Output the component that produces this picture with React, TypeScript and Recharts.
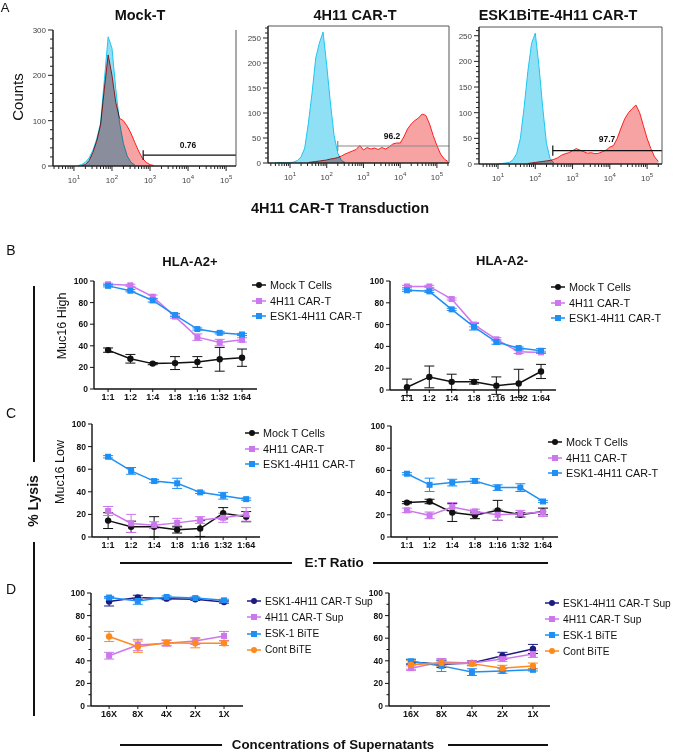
import React from 'react';
import { AreaChart, Area, LineChart, Line, XAxis, YAxis, ErrorBar, ReferenceLine } from 'recharts';

const FONT = '"Liberation Sans", Arial, sans-serif';

// ---------- A: flow histograms (x in log10 units) ----------
const logBins = [0.5, 0.6, 0.7, 0.8, 0.9, 1.0, 1.1, 1.2, 1.3, 1.4, 1.5, 1.6, 1.7, 1.8, 1.9, 2.0, 2.1, 2.2, 2.3, 2.4,
  2.5, 2.6, 2.7, 2.8, 2.9, 3.0, 3.1, 3.2, 3.3, 3.4, 3.5, 3.6, 3.7, 3.8, 3.9, 4.0, 4.1, 4.2, 4.3, 4.4,
  4.5, 4.6, 4.7, 4.8, 4.9, 5.0, 5.1, 5.2, 5.3];
const N = null;
const mockBlue = [N, N, N, N, N, N, 1, 3, 8, 18, 35, 60, 95, 190, 285, 260, 170, 95, 50, 22,
  8, 2, N, N, N, N, N, N, N, N, N, N, N, N, N, N, N, N, N, N, N, N, N, N, N, N, N, N, N];
const mockRed = [N, N, N, N, N, N, N, 1, 3, 12, 30, 55, 90, 170, 245, 200, 140, 105, 100, 88,
  72, 52, 33, 17, 8, 3, 1, N, N, N, N, N, N, N, N, N, N, N, N, N, N, N, N, N, N, N, N, N, N];
const carBlue = [N, 1, 1, 1, 1, 1, 2, 5, 12, 30, 80, 140, 210, 240, 262, 195, 120, 55, 20, 5,
  1, N, N, N, N, N, N, N, N, N, N, N, N, N, N, N, N, N, N, N, N, N, N, N, N, N, N, N, N];
const carRed = [N, N, N, N, N, N, N, N, N, N, 1, 2, 3, 4, 5, 6, 8, 9, 11, 14,
  18, 21, 24, 27, 35, 26, 31, 28, 30, 27, 31, 28, 32, 38, 40, 40, 52, 68, 78, 85,
  90, 98, 95, 78, 55, 35, 18, 8, 3];
const biteBlue = [N, N, N, N, N, 1, 1, 2, 3, 8, 20, 50, 110, 180, 235, 255, 190, 110, 40, 10,
  2, N, N, N, N, N, N, N, N, N, N, N, N, N, N, N, N, N, N, N, N, N, N, N, N, N, N, N, N];
const biteRed = [N, N, N, N, N, N, N, N, N, N, N, N, N, 1, 2, 3, 4, 5, 6, 7,
  9, 12, 17, 20, 22, 26, 30, 27, 24, 21, 22, 20, 21, 24, 27, 33, 36, 50, 70, 88,
  100, 108, 115, 100, 75, 50, 30, 14, 5];

const histTitles = ['Mock-T', '4H11 CAR-T', 'ESK1BiTE-4H11 CAR-T'];
const gatePct = ['0.76', '96.2', '97.7'];

// ---------- B/C/D: % lysis ----------
const ratios = ['1:1', '1:2', '1:4', '1:8', '1:16', '1:32', '1:64'];
const concs = ['16X', '8X', '4X', '2X', '1X'];
const etNames = ['Mock T Cells', '4H11 CAR-T', 'ESK1-4H11 CAR-T'];
const supNames = ['ESK1-4H11 CAR-T Sup', '4H11 CAR-T Sup', 'ESK-1 BiTE', 'Cont BiTE'];

const bPosMock = [36, 28, 23.5, 24, 25, 27.5, 29];
const bPosMockErr = [2, 4, 1, 6, 5, 11, 8];
const bPos4H11 = [97, 96, 85.5, 67, 48, 43, 45.5];
const bPos4H11Err = [1, 1, 1.5, 1.5, 3, 3, 2];
const bPosEsk = [95.5, 91, 82, 68.5, 55.5, 52, 50.5];
const bPosEskErr = [1, 1, 1.5, 1.5, 1, 1, 1];

const bNegMock = [2.5, 12, 7.5, 7.5, 4, 6, 17];
const bNegMockErr = [7.5, 10, 7, 2, 8, 13, 6.5];
const bNeg4H11 = [95, 95, 83.5, 60, 46.5, 35, 34.5];
const bNeg4H11Err = [1, 1, 1, 2, 1.5, 1.5, 1];
const bNegEsk = [91.5, 90.5, 74, 58, 44, 38.5, 36];
const bNegEskErr = [1, 1, 1, 3, 2, 1, 2];

const cPosMock = [14.5, 9, 9, 6.5, 7.5, 21, 18];
const cPosMockErr = [7, 5, 9, 3, 7, 5, 4.5];
const cPos4H11 = [23, 12, 10.5, 12.5, 15, 17, 20];
const cPos4H11Err = [4, 8, 3, 4, 3, 4, 6];
const cPosEsk = [71, 58.5, 49.5, 47.5, 39.5, 36.5, 33.5];
const cPosEskErr = [1, 3, 1.5, 4.5, 1, 3, 1];

const cNegMock = [31, 32, 22, 19.5, 24, 20, 23];
const cNegMockErr = [1, 2, 8, 3, 9, 2, 3];
const cNeg4H11 = [24, 19.5, 27, 23, 20, 21, 22.5];
const cNeg4H11Err = [2, 3, 4, 2, 5, 3, 4];
const cNegEsk = [57, 47, 49, 50.5, 44.5, 44.5, 32];
const cNegEskErr = [1, 6, 3, 2, 2.5, 3.5, 1];

const dPosEsk4H11 = [92.5, 96, 95, 94.5, 92];
const dPosEsk4H11Err = [4, 2, 1, 1, 1];
const dPos4H11 = [44.5, 54, 55.5, 57.5, 62];
const dPos4H11Err = [3, 5, 2.5, 3, 4];
const dPosEskBite = [96, 93, 96.5, 95.5, 93.5];
const dPosEskBiteErr = [1, 3, 1, 1, 1];
const dPosCont = [61.5, 52.5, 56, 55.5, 55.5];
const dPosContErr = [4.5, 5, 2.5, 4, 2];

const dNegEsk4H11 = [39, 37, 38, 44.5, 50.5];
const dNegEsk4H11Err = [2, 3, 2, 3, 4];
const dNeg4H11 = [33.5, 39, 38, 41.5, 46];
const dNeg4H11Err = [2, 3, 2, 2, 3];
const dNegEskBite = [39.5, 35.5, 30, 31, 32];
const dNegEskBiteErr = [2, 5, 3, 2, 1];
const dNegCont = [36.5, 38, 37.5, 33.5, 35.5];
const dNegContErr = [4, 3, 2, 2.5, 2.5];

const C_MOCK = '#111111';
const C_4H11 = '#cc77ee';
const C_ESK = '#1e8ff5';
const C_NAVY = '#1b1b80';
const C_ORANGE = '#ff8a1c';

const Txt = ({ x, y, size = 12, bold = false, rotate = 0, children }: any) => (
  <div style={{
    position: 'absolute', left: x, top: y, transform: `translate(-50%, -50%) rotate(${rotate}deg)`,
    fontFamily: FONT, fontSize: size, fontWeight: bold ? 700 : 400, whiteSpace: 'nowrap', color: '#111', lineHeight: 1,
  }}>{children}</div>
);

const Rule = ({ x1, x2, y1, y2, w = 2 }: any) => (
  <div style={{
    position: 'absolute', left: Math.min(x1, x2), top: Math.min(y1, y2),
    width: Math.max(Math.abs(x2 - x1), w), height: Math.max(Math.abs(y2 - y1), w), background: '#111',
  }} />
);

const logTicks: number[] = [];
for (let d = 0; d <= 5; d++) for (let m = 1; m <= 9; m++) logTicks.push(d + Math.log10(m));

function Histo({ left, top, right, bottom, yMax, yStep, yMinor, xMin, xMax, blue, red, gateX, gateY, gateCap, gateColor, boxTop }: any) {
  const rows = logBins.map((x, i) => ({ x, blue: blue[i], red: red[i] }));
  const padL = 32, padT = 4, padR = 4, padB = 26;
  const yTicks: number[] = [];
  for (let v = 0; v <= yMax; v += yMinor) yTicks.push(v);
  return (
    <div style={{ position: 'absolute', left: left - padL, top: top - padT }}>
      <AreaChart width={right - left + padL + padR} height={bottom - top + padT + padB} data={rows}
        margin={{ top: padT, right: padR, left: 0, bottom: 0 }}>
        <XAxis dataKey="x" type="number" domain={[xMin, xMax]} allowDataOverflow interval={0}
          ticks={logTicks.filter(t => t >= xMin && t <= xMax)} height={padB} tickSize={0} tickMargin={0}
          axisLine={{ stroke: '#222', strokeWidth: 1.5 }}
          tick={(p: any) => {
            const v = p.payload.value;
            const major = Math.abs(v - Math.round(v)) < 1e-6;
            return (
              <g>
                <line x1={p.x} x2={p.x} y1={p.y} y2={p.y + (major ? 5 : 3)} stroke="#222" strokeWidth={1} />
                {major && (
                  <text x={p.x} y={p.y + 17} textAnchor="middle" fontSize={8} fill="#444" fontFamily={FONT}>
                    <tspan>10</tspan><tspan dy={-4} fontSize={6}>{Math.round(v)}</tspan>
                  </text>
                )}
              </g>
            );
          }} />
        <YAxis type="number" domain={[0, yMax]} allowDataOverflow interval={0} ticks={yTicks} width={padL}
          tickSize={0} tickMargin={0} axisLine={{ stroke: '#222', strokeWidth: 1.5 }}
          tick={(p: any) => {
            const v = p.payload.value;
            const major = v % yStep === 0;
            return (
              <g>
                <line x1={p.x} x2={p.x - (major ? 5 : 3)} y1={p.y} y2={p.y} stroke="#222" strokeWidth={1} />
                {major && (
                  <text x={p.x - 7} y={p.y} dy={3} textAnchor="end" fontSize={8} fill="#444" fontFamily={FONT}>{v}</text>
                )}
              </g>
            );
          }} />
        <Area dataKey="red" type="linear" stroke="#ff1e1e" strokeWidth={1} fill="#f7a3a3" fillOpacity={1} isAnimationActive={false} />
        <Area dataKey="blue" type="linear" className="mult" stroke="#1ec6f2" strokeWidth={1} fill="#8fdff5" fillOpacity={1} isAnimationActive={false} />
        <ReferenceLine segment={[{ x: gateX, y: gateY }, { x: xMax, y: gateY }]} stroke={gateColor} strokeWidth={1.2} ifOverflow="visible" />
        <ReferenceLine segment={[{ x: gateX, y: gateY - gateCap }, { x: gateX, y: gateY + gateCap }]} stroke={gateColor} strokeWidth={1.2} ifOverflow="visible" />
        <ReferenceLine x={xMax} stroke="#555" strokeWidth={1} ifOverflow="visible" />
        {boxTop && <ReferenceLine y={yMax} stroke="#555" strokeWidth={1} ifOverflow="visible" />}
      </AreaChart>
    </div>
  );
}

const squareDot = (color: string) => (p: any) =>
  <rect key={`s${p.index}`} x={p.cx - 3} y={p.cy - 3} width={6} height={6} fill={color} />;
const roundDot = (color: string) => (p: any) =>
  <circle key={`c${p.index}`} cx={p.cx} cy={p.cy} r={3.2} fill={color} />;

function LysisPanel({ left, top, right, bottom, dom, cats, series, minorY }: any) {
  const rows = cats.map((c: string, i: number) => {
    const r: any = { i };
    series.forEach((s: any, k: number) => { r['v' + k] = s.values[i]; r['e' + k] = s.errs[i]; });
    return r;
  });
  const padL = 36, padT = 6, padR = 4, padB = 22;
  const yTicks = minorY ? [0, 10, 20, 30, 40, 50, 60, 70, 80, 90, 100] : [0, 20, 40, 60, 80, 100];
  return (
    <div style={{ position: 'absolute', left: left - padL, top: top - padT }}>
      <LineChart width={right - left + padL + padR} height={bottom - top + padT + padB} data={rows}
        margin={{ top: padT, right: padR, left: 0, bottom: 0 }}>
        <XAxis dataKey="i" type="number" domain={dom} allowDataOverflow interval={0}
          ticks={cats.map((_: any, i: number) => i)} tickFormatter={(i: number) => cats[i]} height={padB}
          tickSize={3} tickMargin={2} axisLine={{ stroke: '#111', strokeWidth: 1.4 }} tickLine={{ stroke: '#111' }}
          tick={{ fontSize: 9, fontWeight: 700, fill: '#111', fontFamily: FONT }} />
        <YAxis type="number" domain={[0, 100]} allowDataOverflow interval={0} ticks={yTicks} width={padL}
          tickSize={0} tickMargin={0} axisLine={{ stroke: '#111', strokeWidth: 1.4 }}
          tick={(p: any) => {
            const v = p.payload.value;
            const major = v % 20 === 0;
            return (
              <g>
                <line x1={p.x} x2={p.x - (major ? 4 : 2.5)} y1={p.y} y2={p.y} stroke="#111" strokeWidth={1} />
                {major && (
                  <text x={p.x - 6} y={p.y} dy={3} textAnchor="end" fontSize={8.5} fontWeight={700} fill="#111" fontFamily={FONT}>{v}</text>
                )}
              </g>
            );
          }} />
        {series.map((s: any, k: number) => (
          <Line key={k} dataKey={'v' + k} type="linear" stroke={s.color} strokeWidth={1.5} isAnimationActive={false}
            dot={s.shape === 'circle' ? roundDot(s.color) : squareDot(s.color)} activeDot={false}>
            <ErrorBar dataKey={'e' + k} width={5} stroke={s.color} strokeWidth={1} direction="y" />
          </Line>
        ))}
      </LineChart>
    </div>
  );
}

function LegendBox({ x, y, gap, items, size = 10.8 }: any) {
  return (
    <>
      {items.map((it: any, k: number) => (
        <div key={k} style={{ position: 'absolute', left: x, top: y + k * gap - 8, height: 16, display: 'flex', alignItems: 'center' }}>
          <svg width={18} height={16}>
            <line x1={0} x2={14} y1={8} y2={8} stroke={it.color} strokeWidth={1.5} />
            {it.shape === 'circle'
              ? <circle cx={7} cy={8} r={3} fill={it.color} />
              : <rect x={4} y={5} width={6} height={6} fill={it.color} />}
          </svg>
          <span style={{ fontFamily: FONT, fontSize: size, color: '#111', whiteSpace: 'nowrap' }}>{it.name}</span>
        </div>
      ))}
    </>
  );
}

const etSeries = (m: number[], me: number[], a: number[], ae: number[], e: number[], ee: number[]) => [
  { name: etNames[0], color: C_MOCK, shape: 'circle', values: m, errs: me },
  { name: etNames[1], color: C_4H11, shape: 'square', values: a, errs: ae },
  { name: etNames[2], color: C_ESK, shape: 'square', values: e, errs: ee },
];
const supSeries = (a: number[], ae: number[], b: number[], be: number[], c: number[], ce: number[], d: number[], de: number[]) => [
  { name: supNames[0], color: C_NAVY, shape: 'circle', values: a, errs: ae },
  { name: supNames[1], color: C_4H11, shape: 'square', values: b, errs: be },
  { name: supNames[2], color: C_ESK, shape: 'square', values: c, errs: ce },
  { name: supNames[3], color: C_ORANGE, shape: 'circle', values: d, errs: de },
];

export default function App() {
  const bPos = etSeries(bPosMock, bPosMockErr, bPos4H11, bPos4H11Err, bPosEsk, bPosEskErr);
  const bNeg = etSeries(bNegMock, bNegMockErr, bNeg4H11, bNeg4H11Err, bNegEsk, bNegEskErr);
  const cPos = etSeries(cPosMock, cPosMockErr, cPos4H11, cPos4H11Err, cPosEsk, cPosEskErr);
  const cNeg = etSeries(cNegMock, cNegMockErr, cNeg4H11, cNeg4H11Err, cNegEsk, cNegEskErr);
  const dPos = supSeries(dPosEsk4H11, dPosEsk4H11Err, dPos4H11, dPos4H11Err, dPosEskBite, dPosEskBiteErr, dPosCont, dPosContErr);
  const dNeg = supSeries(dNegEsk4H11, dNegEsk4H11Err, dNeg4H11, dNeg4H11Err, dNegEskBite, dNegEskBiteErr, dNegCont, dNegContErr);

  return (
    <div style={{ position: 'absolute', left: 0, top: 0, width: 674, height: 753, background: '#fff', overflow: 'hidden' }}>
      <style>{'.mult { mix-blend-mode: multiply; }'}</style>

      {/* A */}
      <Txt x={5} y={7} size={13}>A</Txt>
      <Txt x={140} y={15} size={14.5} bold>{histTitles[0]}</Txt>
      <Txt x={355} y={15} size={14.5} bold>{histTitles[1]}</Txt>
      <Txt x={558} y={15} size={14.5} bold>{histTitles[2]}</Txt>
      <Txt x={17} y={97} size={15} rotate={-90}>Counts</Txt>

      <Histo left={53} top={30} right={236} bottom={166} yMax={300} yStep={100} yMinor={20} xMin={0.45} xMax={5.26}
        blue={mockBlue} red={mockRed} gateX={2.82} gateY={24} gateCap={11} gateColor="#111" boxTop={false} />
      <Histo left={268} top={26} right={449} bottom={163} yMax={274} yStep={50} yMinor={10} xMin={0.4} xMax={5.33}
        blue={carBlue} red={carRed} gateX={2.3} gateY={34} gateCap={10} gateColor="#888" boxTop />
      <Histo left={479} top={27} right={662} bottom={164} yMax={267} yStep={50} yMinor={10} xMin={0.49} xMax={5.4}
        blue={biteBlue} red={biteRed} gateX={2.47} gateY={26} gateCap={10} gateColor="#111" boxTop />

      <Txt x={188} y={145} size={8.5} bold>{gatePct[0]}</Txt>
      <Txt x={392} y={136} size={8.5} bold>{gatePct[1]}</Txt>
      <Txt x={607} y={139} size={8.5} bold>{gatePct[2]}</Txt>
      <Txt x={340} y={208} size={14.5} bold>4H11 CAR-T Transduction</Txt>

      {/* B / C / D */}
      <Txt x={11} y={250} size={14}>B</Txt>
      <Txt x={11} y={413} size={14}>C</Txt>
      <Txt x={11} y={589} size={14}>D</Txt>
      <Txt x={190} y={261} size={13} bold>HLA-A2+</Txt>
      <Txt x={502} y={260} size={13} bold>HLA-A2-</Txt>
      <Txt x={62} y={326} size={12.5} rotate={-90}>Muc16 High</Txt>
      <Txt x={60} y={472} size={12.5} rotate={-90}>Muc16 Low</Txt>
      <Txt x={33} y={501} size={14} bold rotate={-90}>% Lysis</Txt>
      <Rule x1={33} x2={35} y1={286} y2={462} />
      <Rule x1={33} x2={35} y1={542} y2={716} />

      <LysisPanel left={94} top={281} right={257} bottom={389} dom={[-0.63, 6.67]} cats={ratios} series={bPos} />
      <LysisPanel left={390} top={281} right={556} bottom={390} dom={[-0.76, 6.67]} cats={ratios} series={bNeg} />
      <LysisPanel left={92} top={424} right={260} bottom={537} dom={[-0.7, 6.6]} cats={ratios} series={cPos} />
      <LysisPanel left={391} top={426} right={558} bottom={537} dom={[-0.7, 6.66]} cats={ratios} series={cNeg} />
      <LysisPanel left={91} top={593} right={243} bottom={706} dom={[-0.63, 4.66]} cats={concs} series={dPos} minorY />
      <LysisPanel left={389} top={593} right={550} bottom={706} dom={[-0.72, 4.56]} cats={concs} series={dNeg} minorY />

      <LegendBox x={252} y={285} gap={15.5} items={bPos} />
      <LegendBox x={551} y={287} gap={15.5} items={bNeg} />
      <LegendBox x={245} y={433} gap={15.5} items={cPos} />
      <LegendBox x={548} y={442} gap={15.5} items={cNeg} />
      <LegendBox x={247} y={601} gap={16.3} items={dPos} size={10.2} />
      <LegendBox x={545} y={603} gap={16} items={dNeg} size={10.2} />

      <Rule x1={120} x2={292} y1={562} y2={564} />
      <Txt x={334} y={563} size={13.5} bold>E:T Ratio</Txt>
      <Rule x1={373} x2={548} y1={562} y2={564} />

      <Rule x1={120} x2={222} y1={744} y2={746} />
      <Txt x={333} y={745} size={13.3} bold>Concentrations of Supernatants</Txt>
      <Rule x1={448} x2={548} y1={744} y2={746} />
    </div>
  );
}
